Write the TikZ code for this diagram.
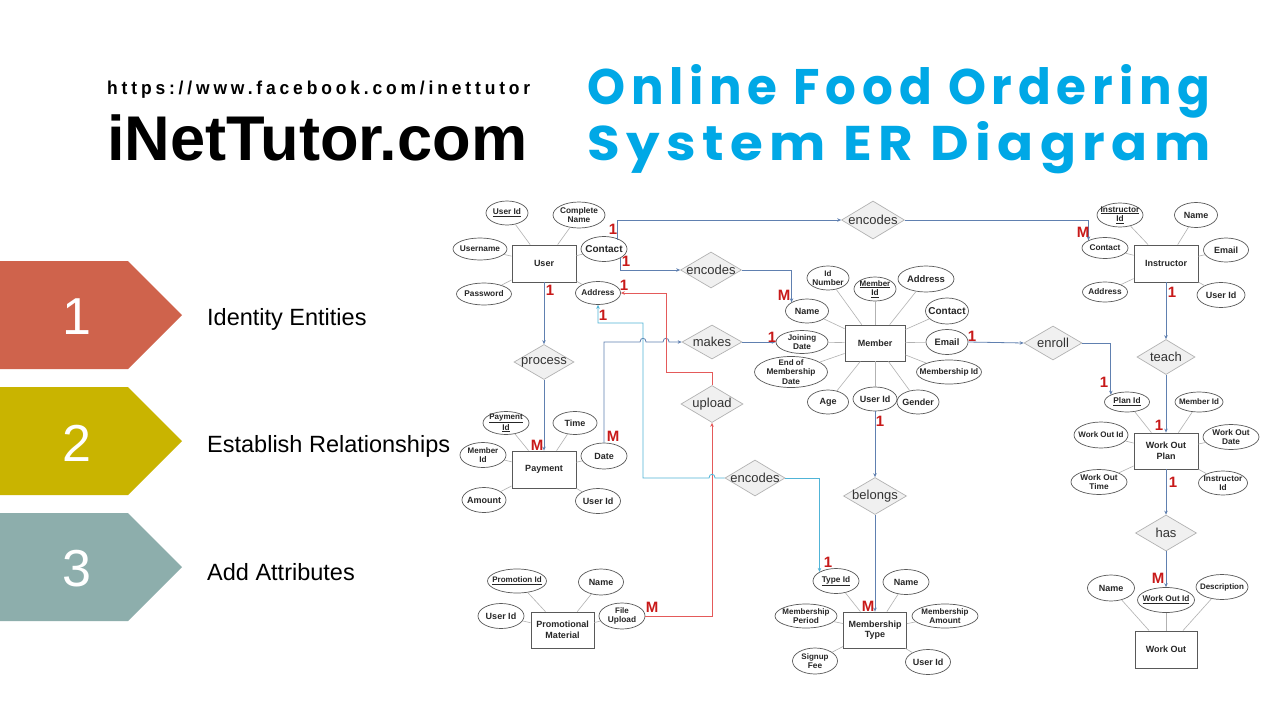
\documentclass[tikz,border=0pt]{standalone}
\usepackage{fontspec}
\setmainfont{Liberation Sans}
\newfontfamily\titlefont{Poppins}
\usetikzlibrary{shapes.geometric,arrows.meta,calc}
\definecolor{steel}{RGB}{96,128,176}
\definecolor{lblue}{RGB}{80,180,215}
\definecolor{rline}{RGB}{228,90,90}
\definecolor{cardred}{RGB}{200,25,25}
\definecolor{ttlblue}{RGB}{0,168,230}
\definecolor{chevA}{RGB}{207,99,76}
\definecolor{chevB}{RGB}{201,180,0}
\definecolor{chevC}{RGB}{141,174,172}
\begin{document}
\begin{tikzpicture}[x=1pt,y=-1pt,
  ent/.style={draw=black!65, line width=0.8pt, fill=white, minimum width=64pt, minimum height=37pt, inner sep=1pt, align=center, font=\fontsize{9}{10.5}\selectfont\bfseries, text=black!85},
  attr/.style n args={3}{ellipse, draw=black!65, line width=0.7pt, fill=white, inner sep=0pt, minimum width=#1, minimum height=#2, label={[alabel]center:#3}},
  alabel/.style={align=center, font=\fontsize{8.3}{9.3}\selectfont\bfseries, inner sep=0pt, text=black!85},
  rel/.style n args={3}{diamond, draw=gray!60, line width=0.7pt, fill=gray!12, inner sep=0pt, minimum width=#1, minimum height=#2, label={[rlabel]center:#3}},
  rlabel/.style={font=\fontsize{13}{14}\selectfont, text=black!80, inner sep=0pt},
  aline/.style={draw=gray!60, line width=0.6pt},
  conn/.style={draw=steel, line width=0.8pt, -{Stealth[length=4pt,width=3.5pt]}},
  bconn/.style={draw=lblue, line width=0.8pt, -{Stealth[length=4pt,width=3.5pt]}},
  rconn/.style={draw=rline, line width=0.8pt, -{Stealth[length=4pt,width=3.5pt]}},
  card/.style={text=cardred, font=\fontsize{15}{15}\selectfont\bfseries, inner sep=0pt},
  chevnum/.style={text=white, font=\fontsize{52}{52}\selectfont},
  steptext/.style={anchor=west, font=\fontsize{23.5}{25}\selectfont, inner sep=0pt}
]
\fill[white] (0,0) rectangle (1280,720);
\useasboundingbox (0,0) rectangle (1280,720);

% ---------- header ----------
\node[anchor=base west, inner sep=0pt] (url) at (107,94) {\resizebox{423pt}{13.5pt}{\bfseries\addfontfeature{LetterSpace=22}https://www.facebook.com/inettutor}};
\node[anchor=base west, inner sep=0pt] (brand) at (107,160) {\resizebox{420pt}{!}{\fontsize{60}{60}\selectfont\bfseries iNetTutor.com}};
\node[anchor=base west, inner sep=0pt, text=ttlblue] (title1) at (587,104) {\resizebox{623pt}{40pt}{\titlefont\bfseries\addfontfeature{LetterSpace=12}Online Food Ordering}};
\node[anchor=base west, inner sep=0pt, text=ttlblue] (title2) at (587,160) {\resizebox{623pt}{39pt}{\titlefont\bfseries\addfontfeature{LetterSpace=12}System ER Diagram}};

% ---------- chevrons ----------
\fill[chevA] (0,261) -- (128,261) -- (182,315) -- (128,369) -- (0,369) -- cycle;
\fill[chevB] (0,387) -- (128,387) -- (182,441) -- (128,495) -- (0,495) -- cycle;
\fill[chevC] (0,513) -- (128,513) -- (182,567) -- (128,621) -- (0,621) -- cycle;
\node[chevnum] (n1) at (77,317) {1};
\node[chevnum] (n2) at (77,443) {2};
\node[chevnum] (n3) at (77,569) {3};
\node[steptext] (s1) at (207,319) {Identity Entities};
\node[steptext] (s2) at (207,446) {Establish Relationships};
\node[steptext] (s3) at (207,572) {Add Attributes};

% ---------- entities ----------
\node[ent] (user) at (544,263.5) {User};
\node[ent] (instr) at (1166,263.5) {Instructor};
\node[ent, minimum width=60pt, minimum height=36pt] (member) at (875,343) {Member};
\node[ent] (payment) at (544,469.5) {Payment};
\node[ent, minimum height=36pt] (wop) at (1166,451) {Work Out\\Plan};
\node[ent, minimum width=63pt, minimum height=36pt] (promo) at (562.5,630) {Promotional\\Material};
\node[ent, minimum width=63pt, minimum height=36pt] (mtype) at (875,630) {Membership\\Type};
\node[ent, minimum width=62pt] (wout) at (1166,649.5) {Work Out};

% ---------- relationships ----------
\node[rel={63pt}{38pt}{encodes}] (enc1) at (873,220) {};
\node[rel={61pt}{36pt}{encodes}] (enc2) at (711,270) {};
\node[rel={60pt}{34pt}{makes}] (makes) at (712,342) {};
\node[rel={60pt}{35pt}{process}] (process) at (544,362) {};
\node[rel={62pt}{37pt}{upload}] (upload) at (712,404) {};
\node[rel={60pt}{36pt}{encodes}] (enc3) at (755,478) {};
\node[rel={63pt}{37pt}{belongs}] (belongs) at (875,496) {};
\node[rel={58pt}{34pt}{enroll}] (enroll) at (1053,343) {};
\node[rel={58pt}{35pt}{teach}] (teach) at (1166,357) {};
\node[rel={61pt}{36pt}{has}] (has) at (1166,533) {};

% ---------- attributes: User ----------
\node[attr={42pt}{24pt}{\underline{User Id}}] (uid) at (507,213) {};
\node[attr={52pt}{26pt}{Complete\\Name}] (ucname) at (579,215) {};
\node[attr={54pt}{22pt}{Username}] (uuname) at (480,249) {};
\node[attr={46pt}{25pt}{\fontsize{10}{11}\selectfont Contact}] (ucontact) at (604,249) {};
\node[attr={55pt}{22pt}{Password}] (upass) at (484,294) {};
\node[attr={45pt}{23pt}{Address}] (uaddr) at (598,293) {};
% Instructor
\node[attr={46pt}{24pt}{\underline{Instructor}\\\underline{Id}}] (iid) at (1120,215) {};
\node[attr={43pt}{25pt}{\fontsize{9}{10}\selectfont Name}] (iname) at (1196,215) {};
\node[attr={46pt}{21pt}{Contact}] (icontact) at (1105,248) {};
\node[attr={45pt}{24pt}{\fontsize{9}{10}\selectfont Email}] (iemail) at (1226,250) {};
\node[attr={45pt}{20pt}{Address}] (iaddr) at (1105,292) {};
\node[attr={48pt}{25pt}{\fontsize{9}{10}\selectfont User Id}] (iuid) at (1221,295) {};
% Member
\node[attr={43pt}{24pt}{\fontsize{9}{10}\selectfont Name}] (mname) at (807,311) {};
\node[attr={42pt}{24pt}{\fontsize{8}{9}\selectfont Id\\Number}] (midnum) at (828,278) {};
\node[attr={42pt}{24pt}{\fontsize{8}{9}\selectfont\underline{Member}\\\underline{Id}}] (mid) at (875,289) {};
\node[attr={56pt}{26pt}{\fontsize{9.5}{10}\selectfont Address}] (maddr) at (926,279) {};
\node[attr={43pt}{26pt}{\fontsize{10}{11}\selectfont Contact}] (mcontact) at (947,311) {};
\node[attr={52pt}{23pt}{\fontsize{8}{9}\selectfont Joining\\Date}] (mjdate) at (802,342) {};
\node[attr={42pt}{25pt}{\fontsize{9.3}{10}\selectfont Email}] (memail) at (947,342) {};
\node[attr={73pt}{31pt}{\fontsize{8}{9}\selectfont End of\\Membership\\Date}] (mend) at (791,372) {};
\node[attr={65pt}{24pt}{Membership Id}] (mmid) at (949,372) {};
\node[attr={41pt}{24pt}{\fontsize{9}{10}\selectfont Age}] (mage) at (828,402) {};
\node[attr={44pt}{24pt}{\fontsize{9}{10}\selectfont User Id}] (muid) at (875,399) {};
\node[attr={42pt}{24pt}{\fontsize{9}{10}\selectfont Gender}] (mgender) at (918,402) {};
% Payment
\node[attr={46pt}{23pt}{\fontsize{8}{9}\selectfont\underline{Payment}\\\underline{Id}}] (ppid) at (506,423) {};
\node[attr={44pt}{23pt}{\fontsize{9}{10}\selectfont Time}] (ptime) at (575,423) {};
\node[attr={46pt}{25pt}{\fontsize{8}{9}\selectfont Member\\Id}] (pmid) at (483,455) {};
\node[attr={46pt}{26pt}{\fontsize{9}{10}\selectfont Date}] (pdate) at (604,456) {};
\node[attr={44pt}{25pt}{\fontsize{9}{10}\selectfont Amount}] (pamount) at (484,500) {};
\node[attr={45pt}{25pt}{\fontsize{9}{10}\selectfont User Id}] (puid) at (598,501) {};
% Work Out Plan
\node[attr={45pt}{20pt}{\underline{Plan Id}}] (planid) at (1127,402) {};
\node[attr={48pt}{20pt}{\fontsize{8}{9}\selectfont Member Id}] (wmid) at (1199,402) {};
\node[attr={54pt}{26pt}{\fontsize{8}{9}\selectfont Work Out Id}] (wwoid) at (1101,435) {};
\node[attr={56pt}{25pt}{Work Out\\Date}] (wdate) at (1231,437) {};
\node[attr={56pt}{25pt}{Work Out\\Time}] (wtime) at (1099,482) {};
\node[attr={49pt}{24pt}{Instructor\\Id}] (winst) at (1223,483) {};
% Promotional Material
\node[attr={59pt}{24pt}{\fontsize{8}{9}\selectfont\underline{Promotion Id}}] (prid) at (517,581) {};
\node[attr={45pt}{26pt}{\fontsize{9}{10}\selectfont Name}] (prname) at (601,582) {};
\node[attr={46pt}{25pt}{\fontsize{9}{10}\selectfont User Id}] (pruid) at (501,616) {};
\node[attr={46pt}{26pt}{\fontsize{8}{9}\selectfont File\\Upload}] (fupload) at (622,616) {};
% Membership Type
\node[attr={46pt}{25pt}{\underline{Type Id}}] (typeid) at (836,581) {};
\node[attr={46pt}{25pt}{\fontsize{9}{10}\selectfont Name}] (mtname) at (906,582) {};
\node[attr={62pt}{24pt}{\fontsize{8}{9}\selectfont Membership\\Period}] (mtper) at (806,616) {};
\node[attr={66pt}{24pt}{\fontsize{8}{9}\selectfont Membership\\Amount}] (mtamt) at (945,616) {};
\node[attr={45pt}{26pt}{\fontsize{8}{9}\selectfont Signup\\Fee}] (mtfee) at (815,661) {};
\node[attr={45pt}{25pt}{\fontsize{9}{10}\selectfont User Id}] (mtuid) at (928,662) {};
% Work Out
\node[attr={47pt}{26pt}{\fontsize{9}{10}\selectfont Name}] (woname) at (1111,588) {};
\node[attr={57pt}{25pt}{\underline{Work Out Id}}] (woid) at (1166,600) {};
\node[attr={52pt}{25pt}{\fontsize{8}{9}\selectfont Description}] (wodesc) at (1222,587) {};

% ---------- attribute lines ----------
\foreach \a in {uid,ucname,uuname,ucontact,upass,uaddr} \draw[aline] (user) -- (\a);
\foreach \a in {iid,iname,icontact,iemail,iaddr,iuid} \draw[aline] (instr) -- (\a);
\foreach \a in {mname,midnum,mid,maddr,mcontact,mjdate,memail,mend,mmid,mage,muid,mgender} \draw[aline] (member) -- (\a);
\foreach \a in {ppid,ptime,pmid,pdate,pamount,puid} \draw[aline] (payment) -- (\a);
\foreach \a in {planid,wmid,wwoid,wdate,wtime,winst} \draw[aline] (wop) -- (\a);
\foreach \a in {prid,prname,pruid,fupload} \draw[aline] (promo) -- (\a);
\foreach \a in {typeid,mtname,mtper,mtamt,mtfee,mtuid} \draw[aline] (mtype) -- (\a);
\foreach \a in {woname,woid,wodesc} \draw[aline] (wout) -- (\a);

% ---------- relationship connectors ----------
\draw[conn] ([xshift=-3pt]ucontact.north east) |- (enc1.west);
\draw[conn] (enc1.east) -| (icontact.north west);
\draw[conn] (ucontact.south east) |- (enc2.west);
\draw[conn] (enc2.east) -| (mname.north west);
\draw[conn] (user.south) -- (process.north);
\draw[conn] (process.south) -- (payment.north);
\coordinate (hA) at (643,342);
\coordinate (hB) at (666,342);
\draw[conn] (pdate.north) |- ($(hA)+(-3,0)$) .. controls ($(hA)+(-3,-5)$) and ($(hA)+(3,-5)$) .. ($(hA)+(3,0)$) -- ($(hB)+(-3,0)$) .. controls ($(hB)+(-3,-5)$) and ($(hB)+(3,-5)$) .. ($(hB)+(3,0)$) -- (makes.west);
\draw[conn] (makes.east) -- (mjdate.west);
\draw[conn] (memail.east) -- (enroll.west);
\draw[conn] (enroll.east) -| (planid.north west);
\draw[conn] (instr.south) -- (teach.north);
\draw[conn] (teach.south) -- (wop.north);
\draw[conn] (wop.south) -- (has.north);
\draw[conn] (has.south) -- (woid.north);
\draw[conn] (muid.south) -- (belongs.north);
\draw[conn] (belongs.south) -- (mtype.north);
% red
\coordinate (rA) at (666,372);
\draw[rconn] (fupload.east) -| (upload.south);
\draw[rconn] (upload.north) |- (rA) |- (uaddr.east);
% light blue
\coordinate (hC) at (712,478);
\coordinate (bA) at (643,478);
\coordinate (bB) at (643,323);
\draw[bconn] (enc3.west) -- ($(hC)+(3,0)$) .. controls ($(hC)+(3,-5)$) and ($(hC)+(-3,-5)$) .. ($(hC)+(-3,0)$) -- (bA) -- (bB) -| (uaddr.south);
\draw[bconn] (enc3.east) -| (typeid.north west);

% ---------- cardinalities ----------
\node[card] (c1) at (613,229) {1};
\node[card] (c2) at (626,261) {1};
\node[card] (c3) at (550,290) {1};
\node[card] (c4) at (624,285) {1};
\node[card] (c5) at (603,315) {1};
\node[card] (c6) at (1083,232) {M};
\node[card] (c7) at (784,295) {M};
\node[card] (c8) at (772,337) {1};
\node[card] (c9) at (972,336) {1};
\node[card] (c10) at (537,445) {M};
\node[card] (c11) at (613,436) {M};
\node[card] (c12) at (1104,382) {1};
\node[card] (c13) at (1172,292) {1};
\node[card] (c14) at (1159,425) {1};
\node[card] (c15) at (1173,482) {1};
\node[card] (c16) at (1158,578) {M};
\node[card] (c17) at (880,421) {1};
\node[card] (c18) at (868,606) {M};
\node[card] (c19) at (828,562) {1};
\node[card] (c20) at (652,607) {M};
\end{tikzpicture}
\end{document}
